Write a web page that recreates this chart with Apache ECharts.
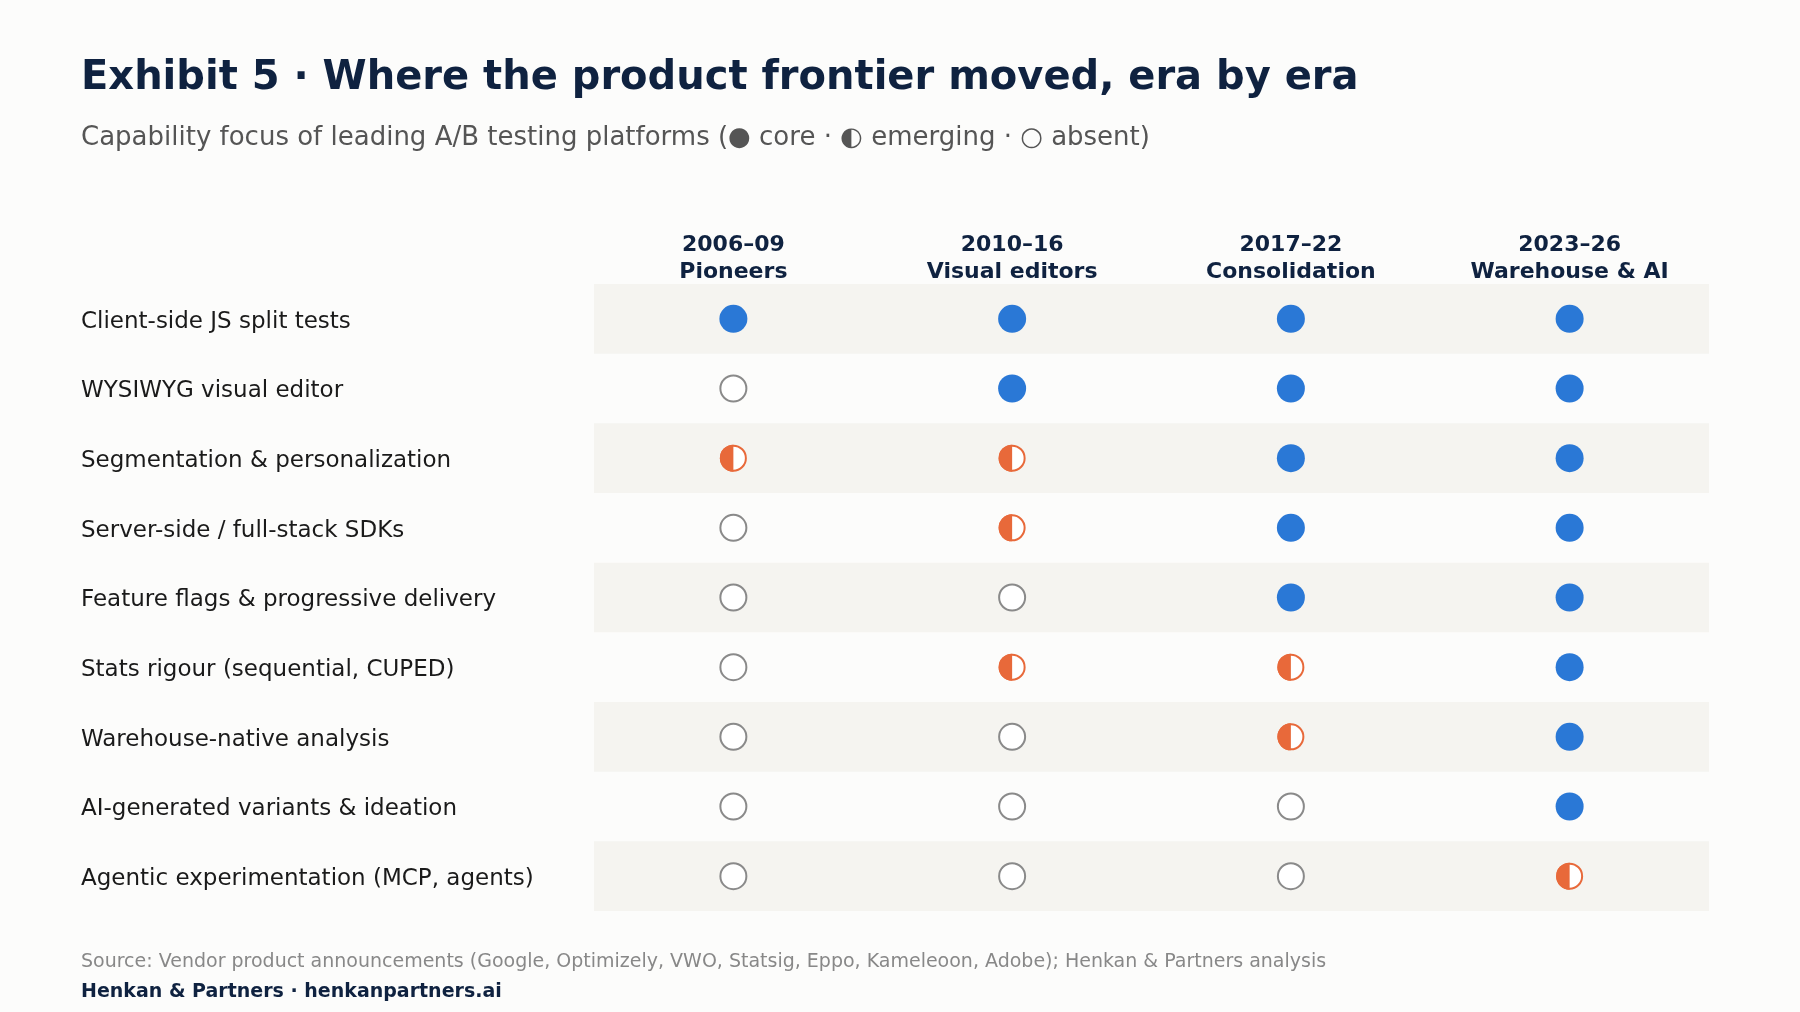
<!DOCTYPE html>
<html>
<head>
<meta charset="utf-8">
<script src="https://cdn.jsdelivr.net/npm/echarts@6/dist/echarts.min.js"></script>
<style>html,body{margin:0;padding:0;background:#fcfcfb}#chart{width:1800px;height:1012px}</style>
</head>
<body>
<div id="chart"></div>
<script>
const eras = ['2006–09\nPioneers', '2010–16\nVisual editors', '2017–22\nConsolidation', '2023–26\nWarehouse & AI'];
const capabilities = [
  'Client-side JS split tests',
  'WYSIWYG visual editor',
  'Segmentation & personalization',
  'Server-side / full-stack SDKs',
  'Feature flags & progressive delivery',
  'Stats rigour (sequential, CUPED)',
  'Warehouse-native analysis',
  'AI-generated variants & ideation',
  'Agentic experimentation (MCP, agents)'
];
// 2 = core, 1 = emerging, 0 = absent
const levels = [
  [2, 2, 2, 2],
  [0, 2, 2, 2],
  [1, 1, 2, 2],
  [0, 1, 2, 2],
  [0, 0, 2, 2],
  [0, 1, 1, 2],
  [0, 0, 1, 2],
  [0, 0, 0, 2],
  [0, 0, 0, 1]
];

const BLUE = '#2a78d6', ORANGE = '#e8693a', GREY = '#8a8a8a';
const pts = lv => {
  const out = [];
  levels.forEach((row, r) => row.forEach((v, c) => { if (v === lv) out.push([c, r]); }));
  return out;
};

const chart = echarts.init(document.getElementById('chart'));
chart.setOption({
  backgroundColor: '#fcfcfb',
  animation: false,
  title: {
    text: 'Exhibit 5 · Where the product frontier moved, era by era',
    subtext: 'Capability focus of leading A/B testing platforms (● core · ◐ emerging · ○ absent)',
    left: 76, top: 54, itemGap: 26,
    textStyle: { fontFamily: 'DejaVu Sans', fontSize: 40, fontWeight: 'bold', color: '#0f2240' },
    subtextStyle: { fontFamily: 'DejaVu Sans', fontSize: 26, color: '#555' }
  },
  graphic: [
    { type: 'text', left: 81, top: 953, style: { text: 'Source: Vendor product announcements (Google, Optimizely, VWO, Statsig, Eppo, Kameleoon, Adobe); Henkan & Partners analysis', font: '19px "DejaVu Sans"', fill: '#888' } },
    { type: 'text', left: 81, top: 983, style: { text: 'Henkan & Partners · henkanpartners.ai', font: 'bold 19px "DejaVu Sans"', fill: '#0f2240' } }
  ],
  grid: { left: 594, right: 91, top: 284, bottom: 101 },
  xAxis: {
    type: 'category', data: eras, position: 'top',
    axisLine: { show: false }, axisTick: { show: false }, splitLine: { show: false },
    axisLabel: { margin: -2, fontFamily: 'DejaVu Sans', fontSize: 22, fontWeight: 'bold', color: '#0f2240', lineHeight: 27 }
  },
  yAxis: {
    type: 'category', data: capabilities, inverse: true,
    axisLine: { show: false }, axisTick: { show: false },
    splitArea: { show: true, areaStyle: { color: ['#f5f4f0', 'rgba(0,0,0,0)'] } },
    axisLabel: { margin: 513, align: 'left', verticalAlign: 'top', lineHeight: 6, fontFamily: 'DejaVu Sans', fontSize: 23, color: '#1a1a1a' }
  },
  series: [
    { type: 'scatter', data: pts(2), symbolSize: 28, itemStyle: { color: BLUE, opacity: 1 } },
    { type: 'scatter', data: pts(0), symbolSize: 26, itemStyle: { color: '#fff', borderColor: GREY, borderWidth: 2, opacity: 1 } },
    {
      type: 'custom', data: pts(1),
      renderItem: (params, api) => {
        const p = api.coord([api.value(0), api.value(1)]);
        const r = 12.5;
        return { type: 'group', children: [
          { type: 'circle', shape: { cx: p[0], cy: p[1], r: r }, style: { fill: '#fff', stroke: ORANGE, lineWidth: 2 } },
          { type: 'sector', shape: { cx: p[0], cy: p[1], r0: 0, r: r + 1, startAngle: Math.PI / 2, endAngle: Math.PI * 1.5 }, style: { fill: ORANGE } }
        ] };
      }
    }
  ]
});
</script>
</body>
</html>
